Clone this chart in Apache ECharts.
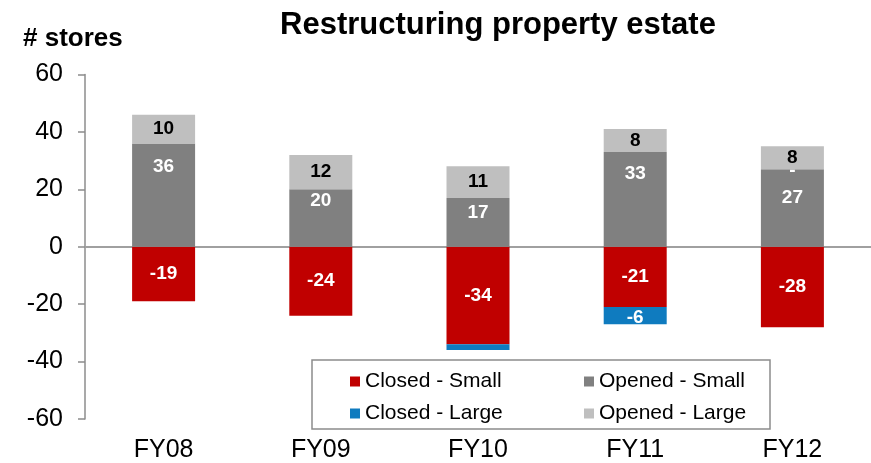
<!DOCTYPE html>
<html>
<head>
<meta charset="utf-8">
<script src="https://cdn.jsdelivr.net/npm/echarts@6/dist/echarts.min.js"></script>
<style>
html,body{margin:0;padding:0;background:#fff;}
#chart{width:871px;height:463px;}
</style>
</head>
<body>
<div id="chart"></div>
<script>
var categories = ['FY08', 'FY09', 'FY10', 'FY11', 'FY12'];
var closedSmall = [-19, -24, -34, -21, -28];
var openedSmall = [36, 20, 17, 33, 27];
var closedLarge = [null, null, -2, -6, 0];
var openedLarge = [10, 12, 11, 8, 8];
var yTicks = [-60, -40, -20, 0, 20, 40, 60];

// label placement tweaks (style only) for the "Opened - Small" labels
var openedSmallLabelShift = [-28, -17, -10, -26, -10];

var FONT = '"Liberation Sans", Arial, sans-serif';
var chart = echarts.init(document.getElementById('chart'), null, {renderer: 'canvas'});

function lbl(color) {
  return {
    show: true,
    position: 'inside',
    color: color,
    fontFamily: FONT,
    fontWeight: 'bold',
    fontSize: 19
  };
}

var option = {
  animation: false,
  backgroundColor: '#ffffff',
  title: [{
    text: 'Restructuring property estate',
    left: 493,
    textAlign: 'center',
    top: 5,
    textStyle: {fontFamily: FONT, fontWeight: 'bold', fontSize: 31, color: '#000'}
  }, {
    text: '# stores',
    left: 18,
    top: 21,
    textStyle: {fontFamily: FONT, fontWeight: 'bold', fontSize: 26, color: '#000'}
  }],
  grid: {left: 85, top: 74.5, width: 793, height: 344.5, containLabel: false},
  legend: [{
    data: ['Closed - Small', 'Closed - Large'],
    orient: 'vertical',
    left: 345,
    top: 366,
    itemWidth: 10, itemHeight: 10,
    itemGap: 11,
    icon: 'rect',
    textStyle: {fontFamily: FONT, fontSize: 21, color: '#000'}
  }, {
    data: ['Opened - Small', 'Opened - Large'],
    orient: 'vertical',
    left: 579,
    top: 366,
    itemWidth: 10, itemHeight: 10,
    itemGap: 11,
    icon: 'rect',
    textStyle: {fontFamily: FONT, fontSize: 21, color: '#000'}
  }],
  graphic: [{
    type: 'rect',
    shape: {x: 312, y: 360, width: 458, height: 69},
    style: {fill: 'none', stroke: '#8c8c8c', lineWidth: 1.5},
    z: 10
  }],
  xAxis: {
    type: 'category',
    data: categories,
    axisLine: {show: false, onZero: false},
    axisTick: {show: false},
    axisLabel: {fontFamily: FONT, fontSize: 25, color: '#000', margin: 19},
    splitLine: {show: false}
  },
  yAxis: {
    type: 'value',
    min: yTicks[0],
    max: yTicks[yTicks.length - 1],
    interval: 20,
    axisLine: {show: true, lineStyle: {color: '#8c8c8c', width: 1.5}},
    axisTick: {show: true, inside: false, length: 7, lineStyle: {color: '#8c8c8c', width: 1.5}},
    axisLabel: {fontFamily: FONT, fontSize: 25, color: '#000', margin: 22},
    splitLine: {show: false}
  },
  series: [{
    name: 'Closed - Small',
    type: 'bar',
    stack: 'total',
    data: closedSmall,
    barWidth: 63,
    itemStyle: {color: '#C00000'},
    label: lbl('#ffffff'),
    markLine: {
      silent: true,
      symbol: 'none',
      label: {show: false},
      lineStyle: {color: '#a0a0a0', width: 2, type: 'solid'},
      data: [{yAxis: 0}],
      z: 1
    },
    z: 2
  }, {
    name: 'Opened - Small',
    type: 'bar',
    stack: 'total',
    data: openedSmall.map(function (v, i) {
      return {value: v, label: {offset: [0, openedSmallLabelShift[i]]}};
    }),
    barWidth: 63,
    itemStyle: {color: '#808080'},
    label: lbl('#ffffff'),
    z: 2
  }, {
    name: 'Closed - Large',
    type: 'bar',
    stack: 'total',
    data: closedLarge,
    barWidth: 63,
    itemStyle: {color: '#0F7BBF'},
    label: Object.assign(lbl('#ffffff'), {
      offset: [0, 2],
      formatter: function (p) {
        if (p.value === 0) return '-';
        if (Math.abs(p.value) < 3) return '';
        return p.value;
      }
    }),
    z: 3
  }, {
    name: 'Opened - Large',
    type: 'bar',
    stack: 'total',
    data: openedLarge,
    barWidth: 63,
    itemStyle: {color: '#BFBFBF'},
    label: lbl('#000000'),
    z: 2
  }]
};
chart.setOption(option);
</script>
</body>
</html>
